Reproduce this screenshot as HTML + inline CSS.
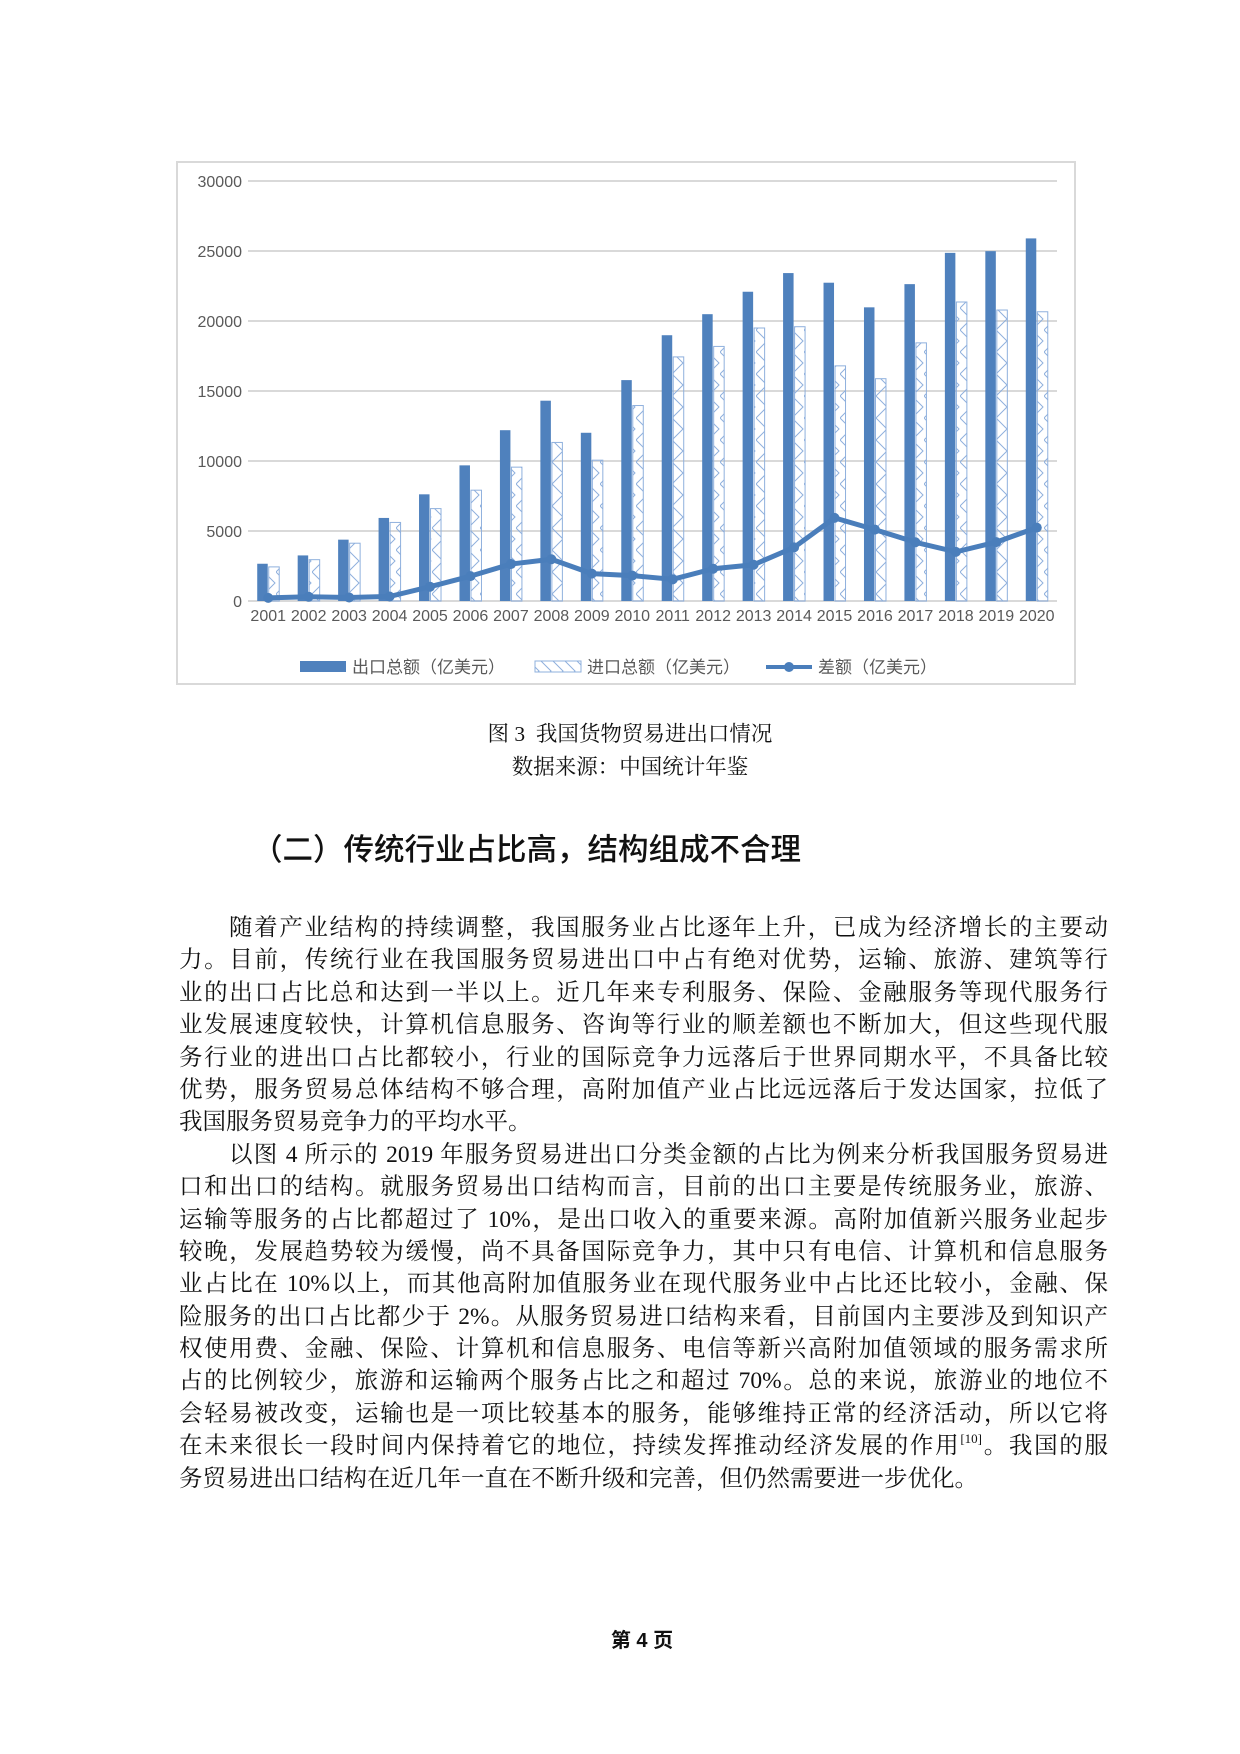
<!DOCTYPE html>
<html><head><meta charset="utf-8">
<style>
html,body{margin:0;padding:0;background:#fff;}
body{width:1240px;height:1754px;position:relative;overflow:hidden;font-family:"Liberation Serif","Noto Serif CJK SC",serif;color:#111;}
.cap{position:absolute;left:0;width:1260px;text-align:center;font-size:21.5px;}
.h2{position:absolute;left:252px;top:825px;font-family:"Liberation Sans","Noto Sans CJK SC",sans-serif;font-size:30.5px;font-weight:500;}
.body{position:absolute;left:179px;width:929px;top:912px;font-size:23.5px;line-height:32.4px;}
.ln{text-align:justify;text-align-last:justify;white-space:nowrap;height:32.4px;}
.ln.last{text-align-last:left;}
.ind{padding-left:50px;}
sup{font-size:13px;line-height:0;vertical-align:0;position:relative;top:-10px;}
.pg{position:absolute;top:1624px;left:0;width:1284px;text-align:center;font-family:"Liberation Sans","Noto Sans CJK SC",sans-serif;font-weight:bold;font-size:20px;}
</style></head><body>
<svg id="chart" width="1240" height="700" style="position:absolute;left:0;top:0" font-family="Liberation Sans, Noto Sans CJK SC, sans-serif">
<rect x="177" y="162" width="898" height="522" fill="#fff" stroke="#d9d9d9" stroke-width="2"/>
<defs><pattern id="zig" width="12" height="22" patternUnits="userSpaceOnUse"><path d="M0 0 L11 11 L0 22" fill="none" stroke="#8fb0dd" stroke-width="1"/></pattern></defs>
<g id="grid"></g><g id="bars"></g><g id="line"></g><g id="labels"></g>
<g font-size="17" fill="#595959">
<rect x="300" y="661" width="46" height="11" fill="#4f81bd"/><text x="352" y="673">出口总额（亿美元）</text>
<rect x="535" y="661" width="46" height="11" fill="url(#zig)" stroke="#8fb0dd"/><text x="587" y="673">进口总额（亿美元）</text>
<line x1="766" y1="667" x2="812" y2="667" stroke="#4a7ebb" stroke-width="4"/><circle cx="789" cy="667" r="5" fill="#4a7ebb"/><text x="818" y="673">差额（亿美元）</text>
</g>
</svg>
<div class="cap" style="top:717px">图 3 &nbsp;我国货物贸易进出口情况</div>
<div class="cap" style="top:750px">数据来源：中国统计年鉴</div>
<div class="h2">（二）传统行业占比高，结构组成不合理</div>
<div class="body">
<div class="ln ind">随着产业结构的持续调整，我国服务业占比逐年上升，已成为经济增长的主要动</div>
<div class="ln">力。目前，传统行业在我国服务贸易进出口中占有绝对优势，运输、旅游、建筑等行</div>
<div class="ln">业的出口占比总和达到一半以上。近几年来专利服务、保险、金融服务等现代服务行</div>
<div class="ln">业发展速度较快，计算机信息服务、咨询等行业的顺差额也不断加大，但这些现代服</div>
<div class="ln">务行业的进出口占比都较小，行业的国际竞争力远落后于世界同期水平，不具备比较</div>
<div class="ln">优势，服务贸易总体结构不够合理，高附加值产业占比远远落后于发达国家，拉低了</div>
<div class="ln last">我国服务贸易竞争力的平均水平。</div>
<div class="ln ind">以图 4 所示的 2019 年服务贸易进出口分类金额的占比为例来分析我国服务贸易进</div>
<div class="ln">口和出口的结构。就服务贸易出口结构而言，目前的出口主要是传统服务业，旅游、</div>
<div class="ln">运输等服务的占比都超过了 10%，是出口收入的重要来源。高附加值新兴服务业起步</div>
<div class="ln">较晚，发展趋势较为缓慢，尚不具备国际竞争力，其中只有电信、计算机和信息服务</div>
<div class="ln">业占比在 10%以上，而其他高附加值服务业在现代服务业中占比还比较小，金融、保</div>
<div class="ln">险服务的出口占比都少于 2%。从服务贸易进口结构来看，目前国内主要涉及到知识产</div>
<div class="ln">权使用费、金融、保险、计算机和信息服务、电信等新兴高附加值领域的服务需求所</div>
<div class="ln">占的比例较少，旅游和运输两个服务占比之和超过 70%。总的来说，旅游业的地位不</div>
<div class="ln">会轻易被改变，运输也是一项比较基本的服务，能够维持正常的经济活动，所以它将</div>
<div class="ln">在未来很长一段时间内保持着它的地位，持续发挥推动经济发展的作用<sup>[10]</sup>。我国的服</div>
<div class="ln last">务贸易进出口结构在近几年一直在不断升级和完善，但仍然需要进一步优化。</div>
</div>
<div class="pg">第 4 页</div>
<script>
const years=["2001","2002","2003","2004","2005","2006","2007","2008","2009","2010","2011","2012","2013","2014","2015","2016","2017","2018","2019","2020"];
const exportsV=[2661,3256,4382,5933,7620,9689,12200,14307,12016,15778,18984,20487,22090,23423,22735,20976,22633,24867,24990,25900];
const importsV=[2436,2952,4128,5612,6600,7915,9561,11326,10059,13962,17435,18184,19500,19592,16796,15879,18438,21357,20784,20660];
const diffV=[225,304,254,321,1020,1775,2639,2981,1957,1815,1549,2303,2590,3831,5939,5097,4196,3509,4206,5240];
const yTicks=[0,5000,10000,15000,20000,25000,30000];
const NS="http://www.w3.org/2000/svg";
const x0=248,x1=1057,yb=601,yt=181,ymax=30000;
const step=(x1-x0)/years.length;
const X=i=>x0+step*(i+0.5);
const Y=v=>yb-(v/ymax)*(yb-yt);
function mk(t,a,p){const e=document.createElementNS(NS,t);for(const k in a)e.setAttribute(k,a[k]);p.appendChild(e);return e;}
const g=document.getElementById('grid'),b=document.getElementById('bars'),l=document.getElementById('line'),lb=document.getElementById('labels');
yTicks.forEach(v=>{
 const ln=mk('line',{x1:x0,x2:x1,y1:Y(v),y2:Y(v),stroke:'#d9d9d9','stroke-width':2},g);
 
 
 const t=mk('text',{x:242,y:Y(v)+6,'text-anchor':'end','font-size':16,fill:'#595959'},lb);
 t.textContent=v;
 
 
});
const bw=10.5;
years.forEach((yr,i)=>{
 const c=X(i);
 const r1=mk('rect',{x:c-bw-0.5,y:Y(exportsV[i]),width:bw,height:yb-Y(exportsV[i]),fill:'#4f81bd'},b);
 
 
 const r2=mk('rect',{x:c+0.5,y:Y(importsV[i]),width:bw,height:yb-Y(importsV[i]),fill:'url(#zig)',stroke:'#8fb0dd','stroke-width':1},b);
 
 
 const t=mk('text',{x:c,y:621,'text-anchor':'middle','font-size':16,fill:'#595959'},lb);
 t.textContent=yr;
 
 
});
const pl=mk('polyline',{points:diffV.map((v,i)=>X(i)+','+Y(v)).join(' '),fill:'none',stroke:'#4a7ebb','stroke-width':5,'stroke-linejoin':'round'},l);


diffV.forEach((v,i)=>{
 const c=mk('circle',{cx:X(i),cy:Y(v),r:5,fill:'#4a7ebb'},l);
 
 
});
</script>
</body></html>
